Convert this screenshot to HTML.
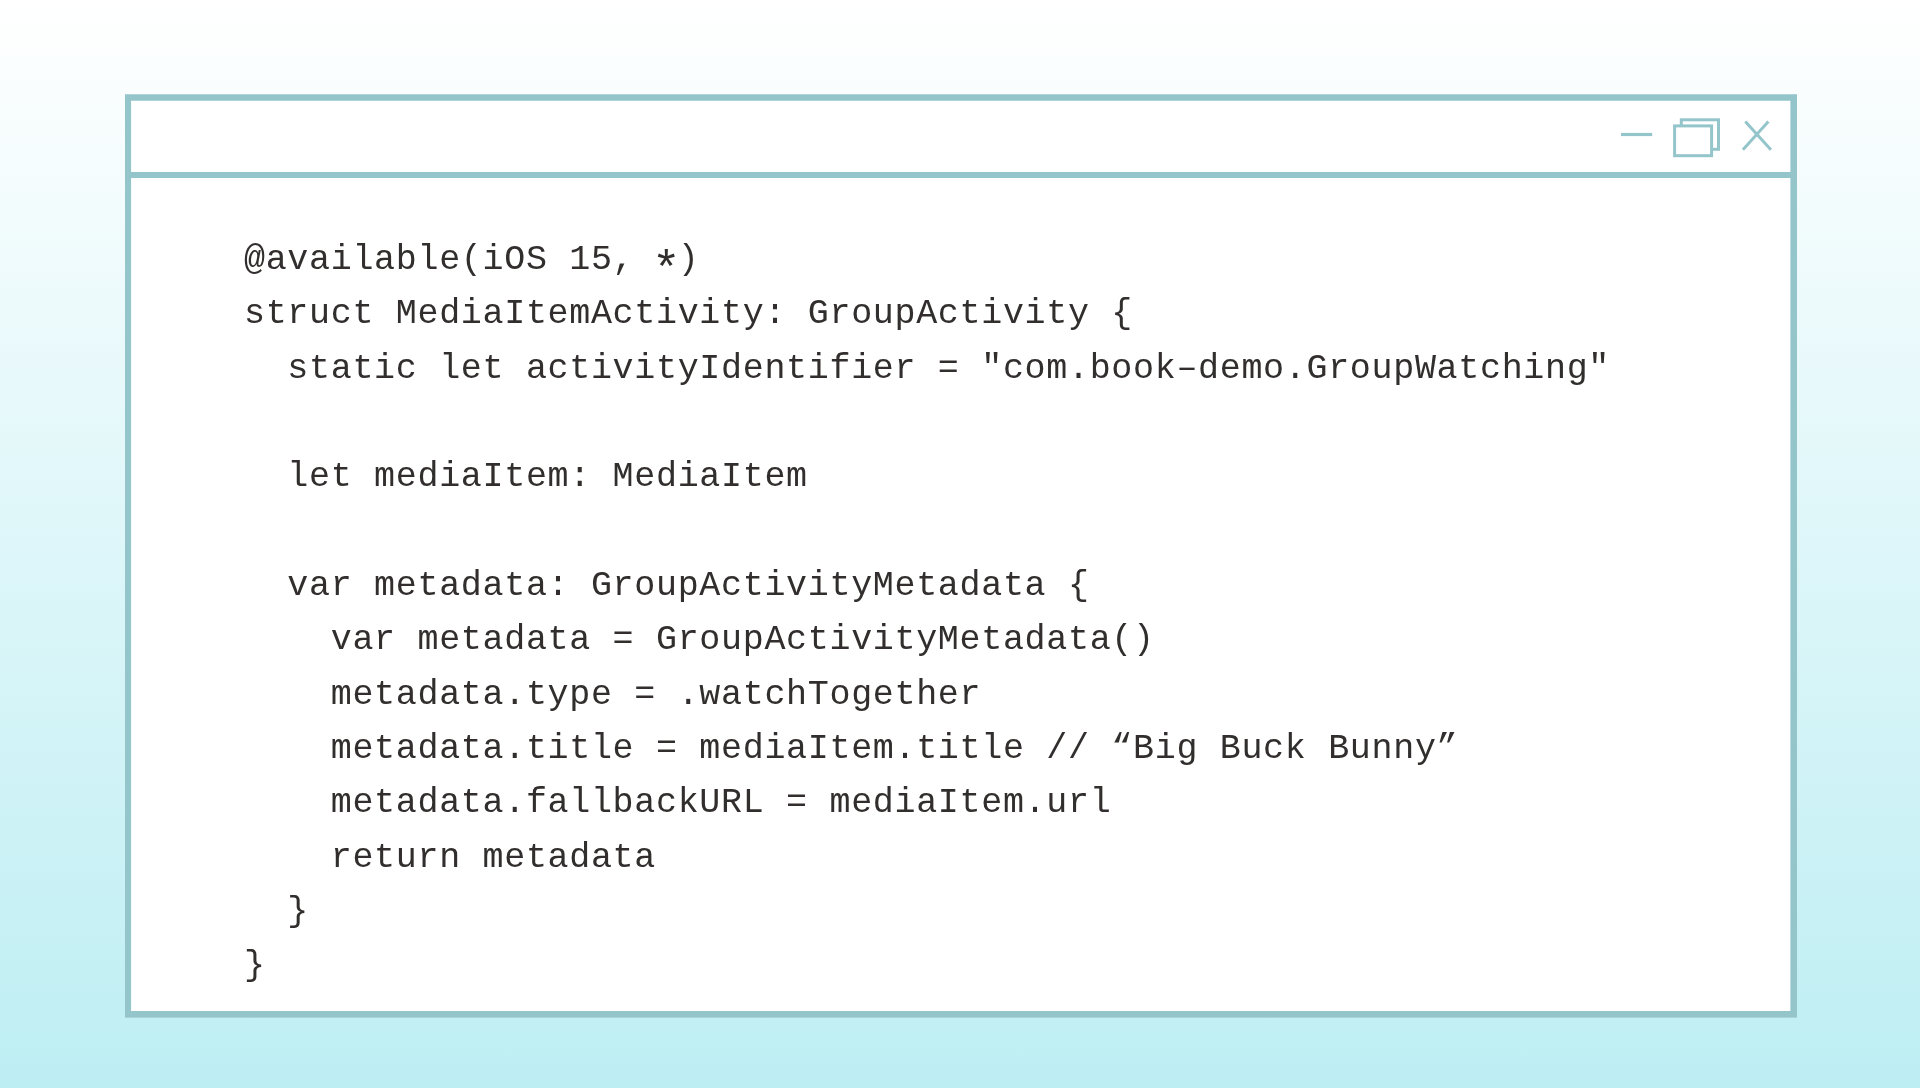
<!DOCTYPE html>
<html lang="en">
<head>
<meta charset="utf-8">
<title>MediaItemActivity</title>
<style>
  html, body {
    margin: 0;
    padding: 0;
    width: 1920px;
    height: 1088px;
    overflow: hidden;
  }
  body {
    position: relative;
    background: linear-gradient(to bottom, #ffffff 0px, #bdeef3 1088px);
    font-family: "Liberation Mono", monospace;
  }
  svg.frame {
    position: absolute;
    left: 0;
    top: 0;
    width: 1920px;
    height: 1088px;
  }
  .ast {
    display: inline-block;
    transform-origin: 50% 50%;
    transform: translateY(12px) scale(1.36);
  }
  pre.code {
    position: absolute;
    margin: 0;
    left: 243.8px;
    top: 233px;
    font-family: "Liberation Mono", monospace;
    font-size: 35px;
    line-height: 54.35px;
    letter-spacing: 0.68px;
    color: #312e2d;
    white-space: pre;
    will-change: transform;
    -webkit-font-smoothing: antialiased;
  }
</style>
</head>
<body>
<svg class="frame" viewBox="0 0 1920 1088">
  <rect x="125" y="94.2" width="1672" height="923.5" fill="#ffffff"/>
  <path fill="#94c5cb" fill-rule="evenodd" d="M125 94.2H1797V1017.7H125Z M131.1 100.8V171.9H1790.4V100.8Z M131.1 178.1V1011.1H1790.4V178.1Z"/>
  <g fill="none" stroke="#94c5cb" stroke-width="3">
    <line x1="1621" y1="134.5" x2="1652.2" y2="134.5" stroke-width="3.2"/>
    <rect x="1681.3" y="119.8" width="37.2" height="29.5"/>
    <rect x="1674.6" y="125.9" width="37" height="29.8" fill="#ffffff"/>
    <line x1="1745.3" y1="121.6" x2="1770.9" y2="149.7"/>
    <line x1="1768.4" y1="121.6" x2="1742.9" y2="149.7"/>
  </g>
</svg>
<pre class="code">@available(iOS 15, <span class="ast">*</span>)
struct MediaItemActivity: GroupActivity {
  static let activityIdentifier = "com.book–demo.GroupWatching"

  let mediaItem: MediaItem

  var metadata: GroupActivityMetadata {
    var metadata = GroupActivityMetadata()
    metadata.type = .watchTogether
    metadata.title = mediaItem.title // “Big Buck Bunny”
    metadata.fallbackURL = mediaItem.url
    return metadata
  }
}</pre>
</body>
</html>
